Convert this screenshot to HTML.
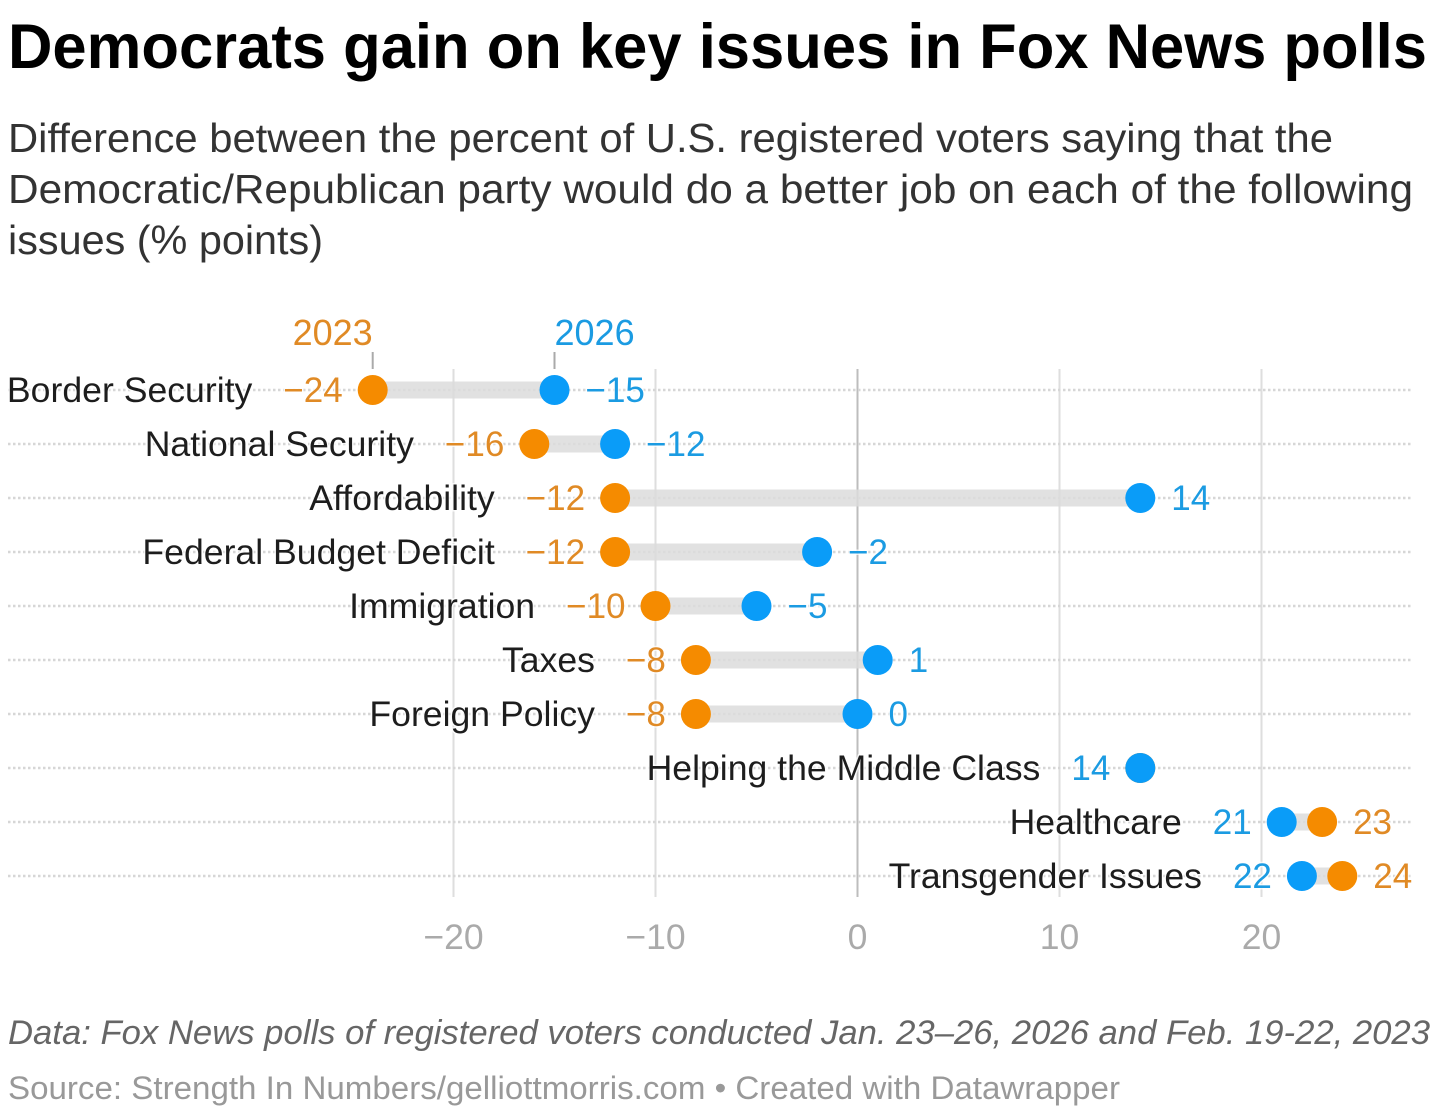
<!DOCTYPE html>
<html lang="en">
<head>
<meta charset="utf-8">
<title>Democrats gain on key issues in Fox News polls</title>
<style>
html,body{margin:0;padding:0;background:#fff;width:1456px;height:1117px;overflow:hidden}
svg{display:block}
text{font-family:"Liberation Sans",Arial,sans-serif}
</style>
</head>
<body>
<svg id="chart" xmlns="http://www.w3.org/2000/svg" width="1456" height="1117" viewBox="0 0 1456 1117">
  <text x="8" y="68" font-size="63" font-weight="700" fill="#000" textLength="1419" lengthAdjust="spacingAndGlyphs">Democrats gain on key issues in Fox News polls</text>
  <g font-size="41" fill="#333">
    <text x="8" y="152" textLength="1325" lengthAdjust="spacingAndGlyphs">Difference between the percent of U.S. registered voters saying that the</text>
    <text x="8" y="203" textLength="1405" lengthAdjust="spacingAndGlyphs">Democratic/Republican party would do a better job on each of the following</text>
    <text x="8" y="254" textLength="315" lengthAdjust="spacingAndGlyphs">issues (% points)</text>
  </g>
  <g id="plot"></g>
  <text x="8" y="1044" font-size="34" font-style="italic" fill="#666" textLength="1422" lengthAdjust="spacingAndGlyphs">Data: Fox News polls of registered voters conducted Jan. 23–26, 2026 and Feb. 19-22, 2023</text>
  <text x="8" y="1099" font-size="32" fill="#999" textLength="1112" lengthAdjust="spacingAndGlyphs">Source: Strength In Numbers/gelliottmorris.com • Created with Datawrapper</text>
</svg>
<script>
const categories = ["Border Security","National Security","Affordability","Federal Budget Deficit","Immigration","Taxes","Foreign Policy","Helping the Middle Class","Healthcare","Transgender Issues"];
const values2023 = [-24,-16,-12,-12,-10,-8,-8,14,23,24];
const values2026 = [-15,-12,14,-2,-5,1,0,14,21,22];
const xTicks = [-20,-10,0,10,20];

const ORANGE = "#f58b00", ORANGE_TEXT = "#e08a25", BLUE = "#0a9cf8", BLUE_TEXT = "#1b9be2";
const plot = document.getElementById("plot");
const NS = "http://www.w3.org/2000/svg";
const x = v => 857.5 + v * 20.2;
const y = i => 390 + i * 54;
const fmt = v => (v < 0 ? "\u2212" + Math.abs(v) : String(v));
const VALUE_SIZE = 35;
const CATEGORY_SIZE = 35.5;
const KEY_SIZE = 36;
const TICK_SIZE = 35.5;

function mk(tag, attrs, txt) {
  const el = document.createElementNS(NS, tag);
  for (const k in attrs) el.setAttribute(k, attrs[k]);
  if (txt !== undefined) el.textContent = txt;
  plot.appendChild(el);
  return el;
}

xTicks.forEach(t => {
  const grid = mk("line", {x1: x(t), x2: x(t), y1: 369, y2: 897, stroke: t === 0 ? "#bdbdbd" : "#dedede", "stroke-width": 2});
  
  
  const tick = mk("text", {x: x(t), y: 949, "font-size": TICK_SIZE, fill: "#aaa", "text-anchor": "middle"}, fmt(t));
  
  
});

categories.forEach((c, i) => {
  const row = mk("line", {x1: 8, x2: 1413, y1: y(i), y2: y(i), stroke: "#d6d6d6", "stroke-width": 2.5, "stroke-dasharray": "2.5 2.5"});
  
  
});

categories.forEach((c, i) => {
  const a = values2023[i], b = values2026[i];
  const bar = mk("line", {x1: x(a), x2: x(b), y1: y(i), y2: y(i), stroke: "#dcdcdc", "stroke-width": 17, "stroke-opacity": 0.85});
  
  
});

categories.forEach((c, i) => {
  const a = values2023[i], b = values2026[i];
  const d23 = mk("circle", {cx: x(a), cy: y(i), r: 15, fill: ORANGE});
  
  
  const d26 = mk("circle", {cx: x(b), cy: y(i), r: 15, fill: BLUE});
  
  

  const lo = Math.min(a, b), hi = Math.max(a, b);
  const yt = y(i) + 12;
  const halo = {stroke: "#fff", "stroke-width": 3, "stroke-opacity": 0.75, "paint-order": "stroke"};
  let leftWidth = 0;
  if (a !== b) {
    const aIsLeft = a < b;
    const leftVal = mk("text", Object.assign({x: x(lo) - 30, y: yt, "font-size": VALUE_SIZE, "text-anchor": "end", fill: aIsLeft ? ORANGE_TEXT : BLUE_TEXT}, halo), fmt(lo));
    
    
    leftWidth = leftVal.getComputedTextLength();
    const rightVal = mk("text", Object.assign({x: x(hi) + 31, y: yt, "font-size": VALUE_SIZE, fill: aIsLeft ? BLUE_TEXT : ORANGE_TEXT}, halo), fmt(hi));
    
    
  } else {
    const onlyVal = mk("text", Object.assign({x: x(lo) - 30, y: yt, "font-size": VALUE_SIZE, "text-anchor": "end", fill: BLUE_TEXT}, halo), fmt(lo));
    
    
    leftWidth = onlyVal.getComputedTextLength();
  }
  const cat = mk("text", Object.assign({x: x(lo) - 30 - leftWidth - 31, y: yt, "font-size": CATEGORY_SIZE, "text-anchor": "end", fill: "#1d1d1d"}, halo), c);
  
  
  cat.setAttribute("textLength", (cat.getComputedTextLength() * 1.003).toFixed(1));
  cat.setAttribute("lengthAdjust", "spacingAndGlyphs");
});

const key23Tick = mk("line", {x1: x(values2023[0]), x2: x(values2023[0]), y1: 352, y2: 369, stroke: "#aaa", "stroke-width": 2});


const key26Tick = mk("line", {x1: x(values2026[0]), x2: x(values2026[0]), y1: 352, y2: 369, stroke: "#aaa", "stroke-width": 2});


const key23 = mk("text", {x: x(values2023[0]), y: 345, "font-size": KEY_SIZE, fill: ORANGE_TEXT, "text-anchor": "end"}, "2023");


const key26 = mk("text", {x: x(values2026[0]), y: 345, "font-size": KEY_SIZE, fill: BLUE_TEXT}, "2026");


</script>
</body>
</html>
